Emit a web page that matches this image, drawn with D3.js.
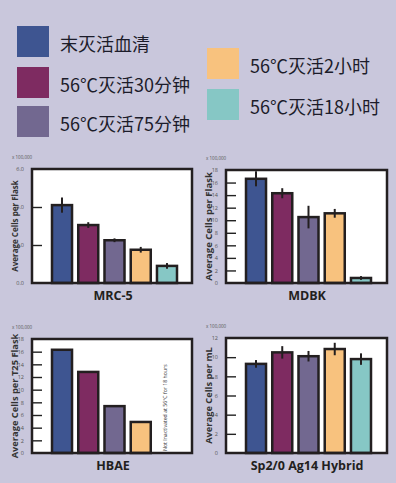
<!DOCTYPE html>
<html>
<head>
<meta charset="utf-8">
<script src="https://cdn.jsdelivr.net/npm/d3@7"></script>
<style>
  html, body { margin: 0; padding: 0; background: #c9c7dc; }
  svg { display: block; }
</style>
</head>
<body>
<svg id="chart" width="396" height="483"></svg>
<script>
(function () {
    // legend / series
    var seriesNames = ['末灭活血清', '56℃灭活30分钟', '56℃灭活75分钟', '56℃灭活2小时', '56℃灭活18小时'];
    var seriesColors = ['#3e5591', '#7e2b61', '#726890', '#f8c27e', '#86c7c5'];

    // panels
    var cellLines = ['MRC-5', 'MDBK', 'HBAE', 'Sp2/0 Ag14 Hybrid'];
    var yTitles = ['Average Cells per Flask', 'Average Cells per Flask', 'Average Cells per T25 Flask', 'Average Cells per mL'];
    var yMax = [6, 18, 18, 12];
    var yTicks = [[0, 2, 4, 6], [0, 2, 4, 6, 8, 10, 12, 14, 16, 18], [0, 2, 4, 6, 8, 10, 12, 14, 16, 18], [0, 2, 4, 6, 8, 10, 12]];

    var mrc5 = [4.1, 3.05, 2.25, 1.75, 0.9];
    var mrc5Err = [0.4, 0.15, 0.1, 0.15, 0.15];
    var mdbk = [16.6, 14.3, 10.5, 11.1, 0.8];
    var mdbkErr = [1.2, 0.8, 1.8, 0.7, 0.3];
    var hbae = [16.3, 12.8, 7.4, 4.9, null];
    var hbaeErr = [0, 0, 0, 0, 0];
    var sp20 = [9.3, 10.5, 10.1, 10.85, 9.8];
    var sp20Err = [0.4, 0.65, 0.55, 0.65, 0.6];

    var values = [mrc5, mdbk, hbae, sp20];
    var errors = [mrc5Err, mdbkErr, hbaeErr, sp20Err];

    var svg = d3.select('#chart');

    // legend
    var legendPos = [[17, 26], [17, 67], [17, 106], [207, 48], [207, 89]];
    var legend = svg.selectAll('.legend')
        .data(seriesNames)
        .enter()
        .append('g')
        .attr('class', 'legend')
        .attr('transform', function (d, i) { return 'translate(' + legendPos[i][0] + ',' + legendPos[i][1] + ')'; });

    legend.append('rect')
        .attr('width', 32)
        .attr('height', 31)
        .style('fill', function (d, i) { return seriesColors[i]; });

    legend.append('text')
        .attr('x', 43)
        .attr('y', 17)
        .attr('dominant-baseline', 'central')
        .style('font-family', '"Noto Sans CJK SC", "Noto Sans", sans-serif')
        .style('font-size', '18px')
        .style('fill', '#1c1c2a')
        .text(function (d) { return d; });

    // frame boxes of the four panels
    var frames = [
        { x: 32, y: 169, w: 160, h: 114, title: 8 },
        { x: 226, y: 170, w: 161, h: 113, title: 9.5 },
        { x: 32, y: 339, w: 160, h: 114, title: 9.3 },
        { x: 226, y: 338, w: 161, h: 115, title: 9.3 }
    ];

    frames.forEach(function (f, p) {
        var g = svg.append('g');

        var x = d3.scaleBand()
            .domain(seriesNames)
            .range([f.x + 20, f.x + 145])
            .paddingInner(0.237)
            .paddingOuter(0);

        var y = d3.scaleLinear()
            .domain([0, yMax[p]])
            .range([f.y + f.h, f.y]);

        g.append('rect')
            .attr('x', f.x)
            .attr('y', f.y)
            .attr('width', f.w)
            .attr('height', f.h)
            .style('fill', '#ffffff');

        var axis = d3.axisLeft(y)
            .tickValues(yTicks[p])
            .tickSizeInner(-10)
            .tickSizeOuter(0)
            .tickPadding(8);

        var ax = g.append('g')
            .attr('transform', 'translate(' + f.x + ',0)')
            .call(axis);
        ax.select('.domain').remove();
        ax.selectAll('.tick line')
            .style('stroke', '#222')
            .style('stroke-width', 1.4)
            .style('display', function (d) { return (d === 0 || d === yMax[p]) ? 'none' : null; });
        ax.selectAll('.tick text')
            .style('font-family', '"Open Sans", sans-serif')
            .style('font-size', '5.5px')
            .style('fill', '#555');

        var rows = seriesNames.map(function (s, i) {
            return { name: s, v: values[p][i], e: errors[p][i], i: i };
        }).filter(function (d) { return d.v !== null; });

        g.selectAll('.bar')
            .data(rows)
            .enter()
            .append('rect')
            .attr('class', 'bar')
            .attr('x', function (d) { return x(d.name); })
            .attr('width', x.bandwidth())
            .attr('y', function (d) { return y(d.v); })
            .attr('height', function (d) { return y(0) - y(d.v); })
            .style('fill', function (d) { return seriesColors[d.i]; })
            .style('stroke', '#231f20')
            .style('stroke-width', 2.5);

        g.selectAll('.err')
            .data(rows.filter(function (d) { return d.e > 0; }))
            .enter()
            .append('line')
            .attr('class', 'err')
            .attr('x1', function (d) { return x(d.name) + x.bandwidth() / 2; })
            .attr('x2', function (d) { return x(d.name) + x.bandwidth() / 2; })
            .attr('y1', function (d) { return y(d.v + d.e); })
            .attr('y2', function (d) { return y(d.v - d.e); })
            .style('stroke', '#231f20')
            .style('stroke-width', 2);

        g.append('rect')
            .attr('x', f.x)
            .attr('y', f.y)
            .attr('width', f.w)
            .attr('height', f.h)
            .style('fill', 'none')
            .style('stroke', '#231f20')
            .style('stroke-width', 2.5);

        g.append('text')
            .attr('x', f.x - 20)
            .attr('y', f.y - 10)
            .style('font-family', '"Open Sans", sans-serif')
            .style('font-size', '4.5px')
            .style('fill', '#555')
            .text('x 100,000');

        g.append('text')
            .attr('transform', 'translate(' + (f.x - 14) + ',' + (f.y + f.h / 2) + ') rotate(-90)')
            .attr('text-anchor', 'middle')
            .style('font-family', '"Open Sans", sans-serif')
            .style('font-weight', 'bold')
            .style('font-size', f.title + 'px')
            .style('fill', '#333')
            .text(yTitles[p]);

        g.append('text')
            .attr('x', f.x + 81)
            .attr('y', f.y + f.h + 17)
            .attr('text-anchor', 'middle')
            .style('font-family', '"Open Sans", sans-serif')
            .style('font-weight', 'bold')
            .style('font-size', '12.5px')
            .style('fill', '#231f20')
            .text(cellLines[p]);

        if (p === 2) {
            g.append('text')
                .attr('transform', 'translate(' + (x(seriesNames[4]) + x.bandwidth() / 2) + ',' + (f.y + f.h - 2) + ') rotate(-90)')
                .style('font-family', '"Open Sans", sans-serif')
                .style('font-size', '5.2px')
                .style('fill', '#333')
                .text('Not Inactivated at 56°C for 18 hours');
        }
    });
}());
</script>
</body>
</html>
